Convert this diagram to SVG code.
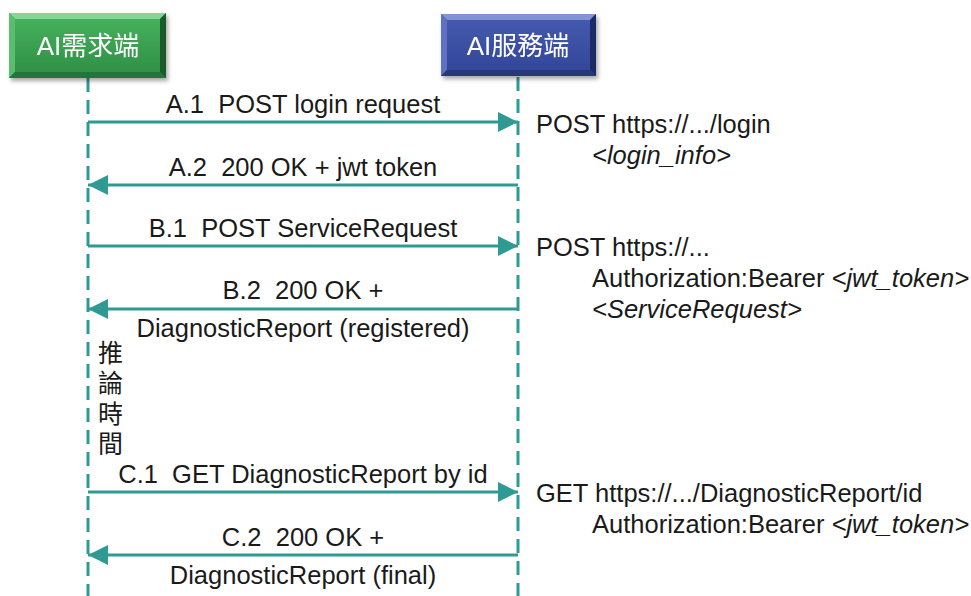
<svg xmlns="http://www.w3.org/2000/svg" width="971" height="596" viewBox="0 0 971 596">
<defs>
<linearGradient id="gG" x1="0" y1="0" x2="0" y2="1"><stop offset="0" stop-color="#45b05c"/><stop offset="1" stop-color="#2f9146"/></linearGradient>
<linearGradient id="gB" x1="0" y1="0" x2="0" y2="1"><stop offset="0" stop-color="#4459ad"/><stop offset="1" stop-color="#33479a"/></linearGradient>
<marker id="ah" markerWidth="20" markerHeight="20" viewBox="0 0 20 20" refX="20" refY="10" orient="auto" markerUnits="userSpaceOnUse"><path d="M0,0 L20,10 L0,20 Z" fill="#2f9a93"/></marker>
<filter id="sh" x="-10%" y="-10%" width="130%" height="140%"><feDropShadow dx="2" dy="3" stdDeviation="2" flood-color="#000" flood-opacity="0.35"/></filter>
</defs>
<style>
.life{stroke:#2f9a93;stroke-width:3;stroke-dasharray:14 8;fill:none}
.msg{stroke:#2f9a93;stroke-width:3;fill:none;marker-end:url(#ah)}
text{font-family:"Liberation Sans",Arial,"Noto Sans CJK TC",sans-serif;font-size:25.5px;fill:#1a1a1a}
.c{text-anchor:middle}
.i{font-style:italic}
.hd{fill:#ffffff;font-size:26px;text-anchor:middle}
.v{font-size:25px}
</style>
<g id="connectors">
<line class="life" x1="88" y1="78" x2="88" y2="596"/>
<line class="life" x1="518" y1="77" x2="518" y2="596"/>
<line class="msg" x1="88" y1="122" x2="518" y2="122"/>
<line class="msg" x1="518" y1="185" x2="88" y2="185"/>
<line class="msg" x1="88" y1="246" x2="518" y2="246"/>
<line class="msg" x1="518" y1="309" x2="88" y2="309"/>
<line class="msg" x1="88" y1="492" x2="518" y2="492"/>
<line class="msg" x1="518" y1="555" x2="88" y2="555"/>
</g>
<g id="node-client" filter="url(#sh)">
<rect x="9" y="13" width="157" height="65" fill="#2a8a40"/>
<polygon points="9,13 166,13 160,19 15,19" fill="#86d597"/>
<polygon points="9,13 15,19 15,72 9,78" fill="#5cbd71"/>
<polygon points="166,13 166,78 160,72 160,19" fill="#1b5a2b"/>
<polygon points="9,78 15,72 160,72 166,78" fill="#23743a"/>
<rect x="15" y="19" width="145" height="53" fill="url(#gG)"/>
<text class="hd" x="88" y="55">AI需求端</text>
</g>
<g id="node-server" filter="url(#sh)">
<rect x="441" y="14" width="155" height="62" fill="#2c3f8c"/>
<polygon points="441,14 596,14 590,20 447,20" fill="#8394d3"/>
<polygon points="441,14 447,20 447,70 441,76" fill="#5f72c0"/>
<polygon points="596,14 596,76 590,70 590,20" fill="#1c2a66"/>
<polygon points="441,76 447,70 590,70 596,76" fill="#27377a"/>
<rect x="447" y="20" width="143" height="50" fill="url(#gB)"/>
<text class="hd" x="518" y="55">AI服務端</text>
</g>
<g id="labels">
<text class="c" x="303" y="113" xml:space="preserve">A.1  POST login request</text>
<text class="c" x="303" y="176" xml:space="preserve">A.2  200 OK + jwt token</text>
<text class="c" x="303" y="237" xml:space="preserve">B.1  POST ServiceRequest</text>
<text class="c" x="303" y="299" xml:space="preserve">B.2  200 OK +</text>
<text class="c" x="303" y="337">DiagnosticReport (registered)</text>
<text class="c" x="303" y="483" xml:space="preserve">C.1  GET DiagnosticReport by id</text>
<text class="c" x="303" y="546" xml:space="preserve">C.2  200 OK +</text>
<text class="c" x="303" y="584">DiagnosticReport (final)</text>
<text class="v" x="98" y="362">推</text>
<text class="v" x="98" y="392">論</text>
<text class="v" x="98" y="423">時</text>
<text class="v" x="98" y="453">間</text>
<text x="536" y="133">POST https://.../login</text>
<text x="592" y="164" class="i">&lt;login_info&gt;</text>
<text x="536" y="256">POST https://...</text>
<text x="592" y="287">Authorization:Bearer <tspan class="i">&lt;jwt_token&gt;</tspan></text>
<text x="592" y="318" class="i">&lt;ServiceRequest&gt;</text>
<text x="536" y="502">GET https://.../DiagnosticReport/id</text>
<text x="592" y="533">Authorization:Bearer <tspan class="i">&lt;jwt_token&gt;</tspan></text>
</g>
</svg>
